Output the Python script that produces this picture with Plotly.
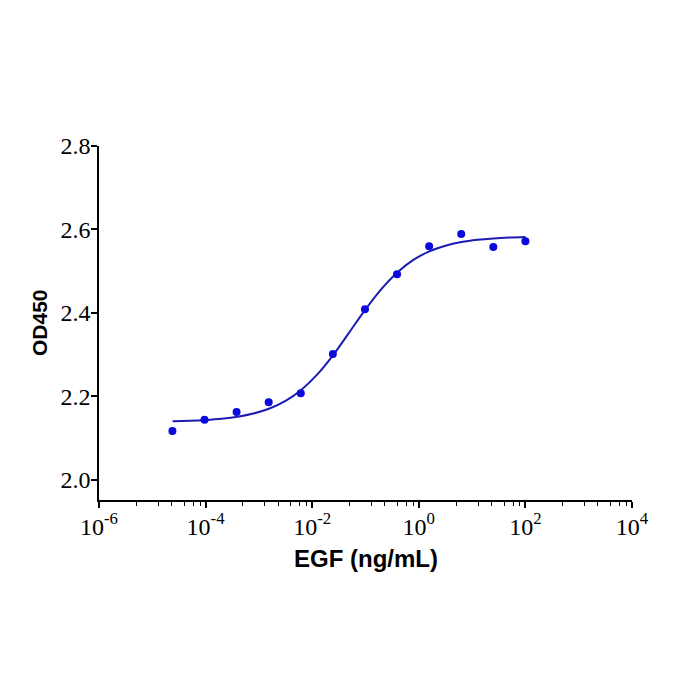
import plotly.graph_objects as go

# Data points (EGF ng/mL, OD450)
egf_conc = [2.384e-5, 9.537e-5, 3.815e-4, 1.526e-3, 6.104e-3, 0.02441,
            0.09766, 0.3906, 1.5625, 6.25, 25.0, 100.0]
od450 = [2.117, 2.144, 2.163, 2.186, 2.208, 2.302,
         2.409, 2.493, 2.560, 2.589, 2.558, 2.572]

# Fitted curve, values
curve_x = [2.4e-5, 5.0e-5, 1.0e-4, 2.0e-4, 4.0e-4, 7.9e-4, 1.58e-3, 3.16e-3,
           6.3e-3, 1.26e-2, 2.51e-2, 5.0e-2, 0.1, 0.2, 0.4, 0.79, 1.58, 3.16,
           6.3, 12.6, 25.1, 50.1, 100.0]
curve_y = [2.1407, 2.1419, 2.1437, 2.1467, 2.1515, 2.1591, 2.1711, 2.1895,
           2.2163, 2.2534, 2.3004, 2.3541, 2.4087, 2.4579, 2.4978, 2.5272,
           2.5477, 2.5612, 2.5699, 2.5753, 2.5787, 2.5808, 2.5820]

x_tickvals = [1e-6, 1e-4, 1e-2, 1e0, 1e2, 1e4]
x_ticktext = ["10<sup>-6</sup>", "10<sup>-4</sup>", "10<sup>-2</sup>",
              "10<sup>0</sup>", "10<sup>2</sup>", "10<sup>4</sup>"]
y_tickvals = [2.0, 2.2, 2.4, 2.6, 2.8]

minor_mult = [5, 13, 23, 40, 59, 79]
minor_vals = [b * m for b in [1e-6, 1e-4, 1e-2, 1e0, 1e2] for m in minor_mult]

fig = go.Figure()
fig.add_trace(go.Scatter(x=curve_x, y=curve_y, mode="lines",
                         line=dict(color="#1c1cb4", width=2, shape="spline"),
                         hoverinfo="skip", showlegend=False))
fig.add_trace(go.Scatter(x=egf_conc, y=od450, mode="markers",
                         marker=dict(color="#0a0adc", size=8),
                         showlegend=False))

tick_font = dict(family="Liberation Serif, Times New Roman, serif", size=24, color="black")
fig.update_layout(
    width=700, height=700,
    margin=dict(l=99, r=68, t=146, b=200),
    paper_bgcolor="white", plot_bgcolor="white",
    xaxis=dict(type="log", range=[-6, 4], tickvals=x_tickvals, ticktext=x_ticktext,
               ticks="outside", ticklen=6, tickwidth=1.5, tickcolor="black",
               showline=True, linecolor="black", linewidth=1.5,
               showgrid=False, zeroline=False, tickfont=tick_font,
               ticklabelstandoff=-2,
               minor=dict(tickvals=minor_vals, ticks="outside", ticklen=4,
                          tickwidth=1.2, tickcolor="black", showgrid=False)),
    yaxis=dict(range=[1.952, 2.8], tickvals=y_tickvals, tickformat=".1f",
               ticks="outside", ticklen=6, tickwidth=1.5, tickcolor="black",
               showline=True, linecolor="black", linewidth=1.5,
               showgrid=False, zeroline=False, tickfont=tick_font,
               ticklabelstandoff=-4),
    annotations=[
        dict(text="<b>EGF (ng/mL)</b>", xref="paper", yref="paper", x=0.5, y=0,
             yshift=-58, xanchor="center", yanchor="middle", showarrow=False,
             font=dict(family="Liberation Sans, Arial, sans-serif", size=24, color="black")),
        dict(text="<b>OD450</b>", xref="paper", yref="paper", x=0, y=0.5,
             xshift=-60, xanchor="center", yanchor="middle", showarrow=False,
             textangle=-90,
             font=dict(family="Liberation Sans, Arial, sans-serif", size=21, color="black")),
    ],
)

fig.write_html("out.html")
